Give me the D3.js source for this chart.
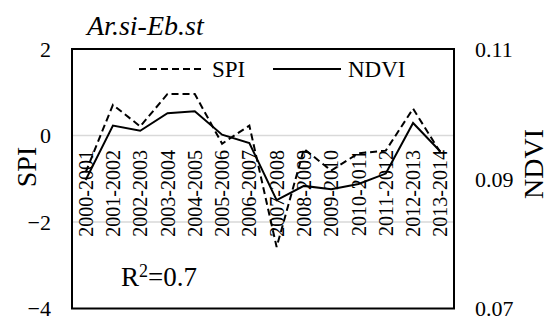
<!DOCTYPE html>
<html>
<head>
<meta charset="utf-8">
<script src="https://cdn.jsdelivr.net/npm/d3@7"></script>
<style>
  html, body { margin: 0; padding: 0; background: #fff; }
  svg { display: block; }
</style>
</head>
<body>
<svg id="chart" width="556" height="320"></svg>
<script>
// Hydrological years
const years = ["2000-2001","2001-2002","2002-2003","2003-2004","2004-2005","2005-2006","2006-2007",
               "2007-2008","2008-2009","2009-2010","2010-2011","2011-2012","2012-2013","2013-2014"];
// Standardized Precipitation Index
const spi  = [-0.85, 0.71, 0.21, 0.96, 0.96, -0.19, 0.23, -2.58, -0.31, -0.81, -0.41, -0.35, 0.62, -0.39];
// Mean NDVI
const ndvi = [0.0898, 0.0982, 0.0974, 0.1001, 0.1004, 0.0968, 0.0955, 0.0867, 0.0889, 0.0884, 0.0892, 0.0908, 0.0986, 0.0942];
const spiTicks  = [-4, -2, 0, 2];
const ndviTicks = [0.07, 0.09, 0.11];
const gridTicks = [-2, 0];
const stationTitle = "Ar.si-Eb.st";
const r2 = "0.7";

const FONT = "'Liberation Serif', 'Times New Roman', 'DejaVu Serif', serif";

const svg = d3.select("#chart").style("font-family", FONT);
const plot = { left: 72, top: 49, right: 454, bottom: 308.5 };

const x = d3.scaleBand().domain(years).range([plot.left, plot.right]).padding(0);
const ySpi = d3.scaleLinear().domain([-4, 2]).range([plot.bottom, plot.top]);
const yNdvi = d3.scaleLinear().domain([0.07, 0.11]).range([plot.bottom, plot.top]);
const cx = d => x(d) + x.bandwidth() / 2;

// horizontal gridlines
svg.append("g").selectAll("line").data(gridTicks).join("line")
  .attr("x1", plot.left).attr("x2", plot.right)
  .attr("y1", d => ySpi(d)).attr("y2", d => ySpi(d))
  .attr("stroke", "#d9d9d9").attr("stroke-width", 1.5);

// left axis (SPI)
const leftAxis = svg.append("g").attr("transform", `translate(${plot.left},0)`)
  .call(d3.axisLeft(ySpi).tickValues(spiTicks).tickSize(0).tickPadding(21).tickFormat(d3.format("d")));
leftAxis.attr("font-family", null).attr("font-size", null);
leftAxis.select(".domain").remove();
leftAxis.selectAll("text").style("font-family", FONT).style("font-size", "22px").attr("dy", "0.33em");

// right axis (NDVI)
const rightAxis = svg.append("g").attr("transform", `translate(${plot.right},0)`)
  .call(d3.axisRight(yNdvi).tickValues(ndviTicks).tickSize(0).tickPadding(21).tickFormat(d3.format(".2f")));
rightAxis.attr("font-family", null).attr("font-size", null);
rightAxis.select(".domain").remove();
rightAxis.selectAll("text").style("font-family", FONT).style("font-size", "22px").attr("dy", "0.33em");

// category labels, rotated
svg.append("g").selectAll("text").data(years).join("text")
  .attr("transform", d => `translate(${cx(d) + 7},150) rotate(-90)`)
  .attr("text-anchor", "end")
  .style("font-size", "20px")
  .text(d => d);

// series lines
const spiLine = d3.line().x((d, i) => cx(years[i])).y(d => ySpi(d));
const ndviLine = d3.line().x((d, i) => cx(years[i])).y(d => yNdvi(d));

svg.append("path").datum(spi).attr("d", spiLine)
  .attr("fill", "none").attr("stroke", "#000").attr("stroke-width", 2)
  .attr("stroke-dasharray", "7,4");
svg.append("path").datum(ndvi).attr("d", ndviLine)
  .attr("fill", "none").attr("stroke", "#000").attr("stroke-width", 2);

// plot frame
svg.append("rect")
  .attr("x", plot.left).attr("y", plot.top)
  .attr("width", plot.right - plot.left).attr("height", plot.bottom - plot.top)
  .attr("fill", "none").attr("stroke", "#000").attr("stroke-width", 2);

// legend
const legend = svg.append("g");
legend.append("line").attr("x1", 139).attr("x2", 205).attr("y1", 69).attr("y2", 69)
  .attr("stroke", "#000").attr("stroke-width", 2).attr("stroke-dasharray", "7,4");
legend.append("text").attr("x", 212).attr("y", 77).style("font-size", "23px").text("SPI");
legend.append("line").attr("x1", 273).attr("x2", 341).attr("y1", 69).attr("y2", 69)
  .attr("stroke", "#000").attr("stroke-width", 2);
legend.append("text").attr("x", 348).attr("y", 77).style("font-size", "23px").text("NDVI");

// chart title
svg.append("text").attr("x", 87).attr("y", 35).style("font-size", "28px")
  .style("font-style", "italic").text(stationTitle);

// axis titles
svg.append("text").attr("transform", "translate(36,167) rotate(-90)")
  .attr("text-anchor", "middle").style("font-size", "28px").text("SPI");
svg.append("text").attr("transform", "translate(543,164) rotate(-90)")
  .attr("text-anchor", "middle").style("font-size", "28px").text("NDVI");

// coefficient of determination
const r2Text = svg.append("text").attr("x", 121).attr("y", 286).style("font-size", "27px");
r2Text.append("tspan").text("R");
r2Text.append("tspan").style("font-size", "18px").attr("dy", -9).text("2");
r2Text.append("tspan").attr("dy", 9).text("=" + r2);
</script>
</body>
</html>
